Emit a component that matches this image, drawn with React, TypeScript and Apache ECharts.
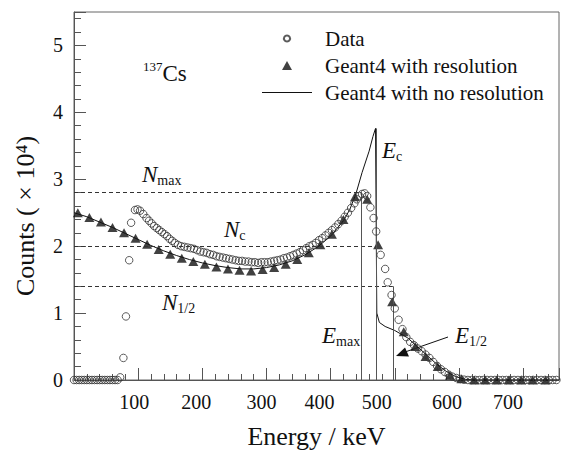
import React, { useEffect, useRef } from "react";
import * as echarts from "echarts";

// ---- Data (energy in keV, counts in units of 10^4) ----
const dataEnergy = [
  0, 4, 8, 12, 16, 20, 24, 28, 32, 36, 40, 44, 48, 52, 56, 60, 64, 68,
  72, 77, 81, 86, 89, 95, 99, 103, 108, 113, 117, 121, 125, 129, 133, 137, 141, 145, 149, 153, 157,
  162, 167, 172, 177, 182, 187, 192, 197, 202, 207, 212, 217, 222, 227, 232, 237, 242, 247, 252, 257,
  262, 267, 272, 277, 282, 287, 292, 297, 302, 307, 312, 317, 322, 327, 332, 337, 342, 347, 352, 357,
  362, 367, 372, 377, 382, 387, 392, 397, 402, 407, 412, 417, 422, 427, 432, 437, 441, 445, 449, 453,
  457, 462, 467, 471, 478, 485, 489, 495, 500, 506, 512, 518, 524, 530, 536, 542, 548, 554, 560, 566,
  572, 578, 584, 590, 596, 602, 608, 614, 620, 626, 632, 638, 644, 650, 656, 662, 668, 674, 680, 686,
  692, 698, 704, 710, 716, 722, 728, 734, 740, 746, 752,
];
const dataCounts = [
  0, 0, 0, 0, 0, 0, 0, 0, 0, 0, 0, 0, 0, 0, 0, 0, 0, 0,
  0.04, 0.33, 0.95, 1.79, 2.35, 2.54, 2.55, 2.53, 2.48, 2.42, 2.38, 2.34, 2.3, 2.27, 2.24, 2.21, 2.18, 2.15, 2.11, 2.08, 2.05,
  2.02, 2.0, 1.99, 1.98, 1.97, 1.96, 1.94, 1.92, 1.91, 1.9, 1.88, 1.87, 1.85, 1.84, 1.83, 1.82, 1.81, 1.8, 1.79, 1.78,
  1.78, 1.77, 1.77, 1.76, 1.76, 1.75, 1.76, 1.76, 1.76, 1.77, 1.78, 1.79, 1.8, 1.82, 1.83, 1.85, 1.87, 1.89, 1.91, 1.94,
  1.97, 2.0, 2.02, 2.05, 2.09, 2.12, 2.16, 2.2, 2.24, 2.28, 2.33, 2.38, 2.44, 2.5, 2.57, 2.64, 2.7, 2.75, 2.78, 2.79,
  2.75, 2.58, 2.42, 2.22, 1.87, 1.66, 1.46, 1.27, 1.07, 0.9, 0.76, 0.64, 0.57, 0.52, 0.47, 0.43, 0.38, 0.33, 0.27, 0.21,
  0.16, 0.12, 0.08, 0.05, 0.03, 0.015, 0.005, 0, 0, 0, 0, 0, 0, 0, 0, 0, 0, 0, 0, 0,
  0, 0, 0, 0, 0, 0, 0, 0, 0, 0, 0,
];

const resEnergy = [
  6, 24, 42, 60, 78, 96, 114, 132, 150, 168, 186, 204, 222, 240, 258, 276, 294, 312, 330, 348, 366,
  384, 402, 420, 438, 457, 474, 496, 514, 532, 548, 567, 586, 604, 624, 641, 659, 678, 697, 715, 735,
];
const resCounts = [
  2.5, 2.43, 2.36, 2.28, 2.2, 2.12, 2.03, 1.95, 1.88, 1.82, 1.77, 1.73, 1.69, 1.66, 1.64, 1.63, 1.65, 1.68, 1.73, 1.8, 1.9,
  2.02, 2.18, 2.4, 2.74, 2.7, 2.02, 1.17, 0.72, 0.5, 0.35, 0.2, 0.07, 0.02, 0, 0, 0, 0, 0, 0, 0,
];

const noResEnergy = [
  0, 20, 40, 60, 80, 100, 120, 140, 160, 180, 200, 220, 240, 260, 280, 300, 320, 340, 360, 380, 400,
  420, 430, 440, 449, 460, 466, 470, 472, 476, 485, 500, 520, 535, 550, 565, 580, 595, 610, 625, 756,
];
const noResCounts = [
  2.5, 2.44, 2.36, 2.28, 2.19, 2.1, 2.01, 1.93, 1.86, 1.8, 1.75, 1.71, 1.68, 1.66, 1.66, 1.68, 1.72, 1.78, 1.87, 1.99, 2.15,
  2.38, 2.55, 2.8, 3.1, 3.42, 3.64, 3.76, 1.0, 0.86, 0.8, 0.74, 0.63, 0.5, 0.37, 0.24, 0.13, 0.05, 0.01, 0, 0,
];

// Reference levels / edges
const levelCounts = [2.8, 2.0, 1.4]; // N_max, N_c, N_1/2
const edgeEnergies = [447, 471, 497]; // E_max, E_c, E_1/2
const edgeTops = [2.8, 3.76, 1.4];

// Tick labels
const xTickLabels = [100, 200, 300, 400, 500, 600, 700];
const xLabelShift = [4, 6, 5, 11, 18, 12, 15];
const yTickLabels = [0, 1, 2, 3, 4, 5];

const FONT = "Liberation Serif";
const INK = "#111";
const AXIS = "#555";

export default function App() {
  const ref = useRef<HTMLDivElement>(null);

  useEffect(() => {
    if (!ref.current) return;
    const chart = echarts.init(ref.current, null, { renderer: "svg" });

    const xRich: Record<string, any> = {};
    xTickLabels.forEach((v, i) => {
      xRich["s" + i] = {
        fontSize: 20,
        fontFamily: FONT,
        color: INK,
        padding: [0, xLabelShift[i] * 2, 0, 0],
      };
    });

    const markLineData: any[] = [];
    levelCounts.forEach((c, i) => {
      markLineData.push([
        { coord: [0, c], lineStyle: { type: [4, 3], color: "#333", width: 1 } },
        { coord: [edgeEnergies[i], c] },
      ]);
    });
    edgeEnergies.forEach((e, i) => {
      markLineData.push([
        { coord: [e, 0], lineStyle: { type: "solid", color: "#555", width: 1 } },
        { coord: [e, edgeTops[i]] },
      ]);
    });

    const italic = { fontStyle: "italic", fontSize: 23, fontFamily: FONT, fill: INK, lineHeight: 26 };
    const sub = { fontSize: 14, fontFamily: FONT, fill: INK, verticalAlign: "bottom" };

    const option: any = {
      animation: false,
      backgroundColor: "#fff",
      textStyle: { fontFamily: FONT },
      grid: {
        left: 74,
        right: 2,
        top: 12,
        bottom: 75,
        show: true,
        borderColor: "#666",
        borderWidth: 1,
        backgroundColor: "transparent",
      },
      legend: {
        orient: "vertical",
        left: 257,
        top: 23,
        itemWidth: 50,
        itemHeight: 9,
        itemGap: 6,
        selectedMode: false,
        textStyle: { fontSize: 21, fontFamily: FONT, color: INK, padding: [0, 0, 0, 8] },
        data: [
          { name: "Data", icon: "path://M0,0 M10,10 M5,1.6 A3.4,3.4 0 1 1 4.99,1.6 Z" },
          { name: "Geant4 with resolution", icon: "path://M5,0 L10,9 L0,9 Z" },
          { name: "Geant4 with no resolution", icon: "path://M0,0 L50,0 L50,1 L0,1 Z" },
        ],
      },
      xAxis: {
        type: "value",
        min: 0,
        max: 756,
        interval: 100,
        name: "Energy / keV",
        nameLocation: "middle",
        nameGap: 43,
        nameTextStyle: { fontSize: 26, fontFamily: FONT, color: INK },
        axisLine: { lineStyle: { color: AXIS } },
        axisTick: { inside: true, length: 12, lineStyle: { color: AXIS } },
        minorTick: { show: true, splitNumber: 5, length: 6, lineStyle: { color: AXIS } },
        splitLine: { show: false },
        axisLabel: {
          margin: 12,
          showMinLabel: false,
          showMaxLabel: false,
          fontSize: 20,
          fontFamily: FONT,
          color: INK,
          formatter: (v: number) => {
            const i = xTickLabels.indexOf(v);
            return i < 0 ? "" : `{s${i}|${v}}`;
          },
          rich: xRich,
        },
      },
      yAxis: {
        type: "value",
        min: 0,
        max: 5.5,
        interval: 1,
        name: "Counts ( \u00d7 10\u2074)",
        nameLocation: "middle",
        nameGap: 36,
        nameRotate: 90,
        nameTextStyle: { fontSize: 26, fontFamily: FONT, color: INK, padding: [0, 40, 0, 0] },
        axisLine: { lineStyle: { color: AXIS } },
        axisTick: { inside: true, length: 12, lineStyle: { color: AXIS } },
        minorTick: { show: true, splitNumber: 5, length: 7, lineStyle: { color: AXIS } },
        splitLine: { show: false },
        axisLabel: {
          margin: 11,
          showMaxLabel: false,
          fontSize: 20,
          fontFamily: FONT,
          color: INK,
          formatter: (v: number) => (yTickLabels.indexOf(v) >= 0 ? String(v) : ""),
        },
      },
      series: [
        {
          name: "Geant4 with no resolution",
          type: "line",
          showSymbol: false,
          symbol: "none",
          lineStyle: { color: INK, width: 1 },
          itemStyle: { color: INK },
          data: noResEnergy.map((e, i) => [e, noResCounts[i]]),
          z: 3,
          markLine: {
            silent: true,
            symbol: ["none", "none"],
            label: { show: false },
            data: markLineData,
          },
        },
        {
          name: "Geant4 with resolution",
          type: "scatter",
          symbol: "triangle",
          symbolSize: [10, 9],
          itemStyle: { color: INK },
          data: resEnergy.map((e, i) => [e, resCounts[i]]),
          z: 4,
        },
        {
          name: "Data",
          type: "scatter",
          symbol: "circle",
          symbolSize: 7.5,
          itemStyle: { color: "rgba(255,255,255,0)", borderColor: "#333", borderWidth: 1 },
          data: dataEnergy.map((e, i) => [e, dataCounts[i]]),
          z: 5,
        },
      ],
      graphic: [
        {
          type: "text",
          left: 143,
          top: 60,
          style: {
            text: "{sup|137}{b|Cs}",
            rich: {
              sup: { fontSize: 13, fontFamily: FONT, fill: INK, verticalAlign: "top" },
              b: { fontSize: 23, fontFamily: FONT, fill: INK, lineHeight: 26 },
            },
          },
        },
        { type: "text", left: 142, top: 163, style: { text: "{i|N}{s|max}", rich: { i: italic, s: sub } } },
        { type: "text", left: 224, top: 218, style: { text: "{i|N}{s|c}", rich: { i: italic, s: sub } } },
        { type: "text", left: 162, top: 291, style: { text: "{i|N}{s|1/2}", rich: { i: italic, s: sub } } },
        { type: "text", left: 382, top: 139, style: { text: "{i|E}{s|c}", rich: { i: italic, s: sub } } },
        { type: "text", left: 322, top: 324, style: { text: "{i|E}{s|max}", rich: { i: italic, s: sub } } },
        { type: "text", left: 455, top: 324, style: { text: "{i|E}{s|1/2}", rich: { i: italic, s: sub } } },
        {
          type: "line",
          shape: { x1: 448, y1: 337, x2: 405, y2: 352 },
          style: { stroke: INK, lineWidth: 1 },
        },
        {
          type: "polygon",
          shape: { points: [[396, 356], [409, 356.5], [405, 347.5]] },
          style: { fill: INK },
        },
      ],
    };

    chart.setOption(option);
    return () => chart.dispose();
  }, []);

  return (
    <div
      ref={ref}
      style={{ position: "fixed", left: 0, top: 0, width: 561, height: 455, background: "#fff" }}
    />
  );
}
